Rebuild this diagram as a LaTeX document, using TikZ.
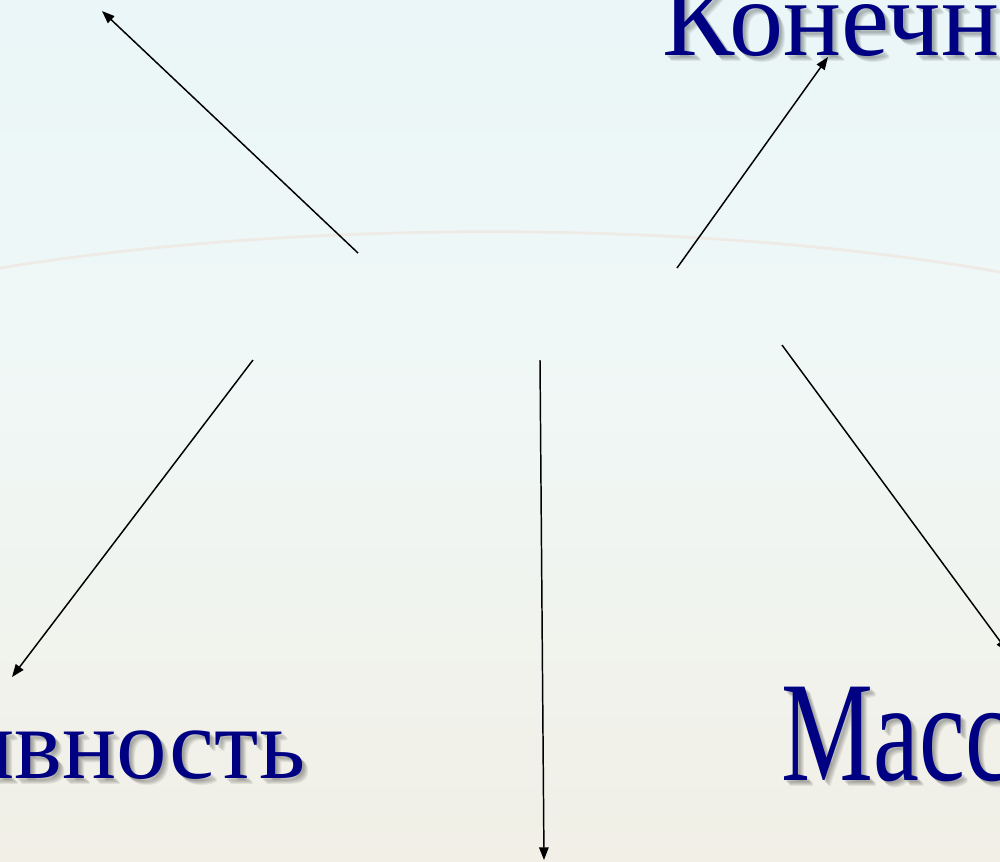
\documentclass[tikz,border=0pt]{standalone}
\usepackage{fontspec}
\setmainfont{Liberation Serif}
\usetikzlibrary{arrows.meta}
\definecolor{navy}{RGB}{0,0,130}
\definecolor{bgA}{RGB}{239,232,221}
\definecolor{bgB}{RGB}{241,239,230}
\definecolor{bgC}{RGB}{240,248,247}
\definecolor{bgD}{RGB}{232,245,247}
\definecolor{bgE}{RGB}{225,241,245}
\definecolor{arcline}{RGB}{238,235,231}
\pgfdeclareverticalshading{slidebg}{100bp}{color(0bp)=(bgA); color(25bp)=(bgB); color(55bp)=(bgC); color(80bp)=(bgD); color(100bp)=(bgE)}
\begin{document}
\begin{tikzpicture}[x=0.1mm,y=-0.1mm,
  arr/.style={draw=black, line width=0.42pt, -{Triangle[length=3.6pt,width=2.7pt]}},
  lblA/.style={inner sep=0, text=navy, font=\fontsize{30.8pt}{32pt}\selectfont},
  lblB/.style={inner sep=0, text=navy, font=\fontsize{28.8pt}{32pt}\selectfont},
  lblC/.style={inner sep=0, text=navy, font=\fontsize{29.4pt}{32pt}\selectfont},
  shd/.style={text=black, text opacity=0.07}]
\useasboundingbox (0,0) rectangle (1000,861);
\clip (0,0) rectangle (1000,861);
\shade[shading=slidebg] (0,0) rectangle (1000,861);
\draw[arcline, line width=0.8pt] (0,268) .. controls (300,219) and (700,219) .. (1000,272);

% shadows
\foreach \d in {2,3,4,5,6}{
  \node[lblA, shd, anchor=base west] (konS\d) at (662+\d,55+\d) {Конечн};
  \node[lblB, shd, anchor=base east] (rezS\d) at (306+\d,778+\d) {ивность};
  \node[lblC, shd, anchor=base west] (masS\d) at (781+\d,780+\d) {\scalebox{1}[1.38]{Масс}};
}
% labels
\node[lblA, anchor=base west] (kon) at (662,55) {Конечн};
\node[lblB, anchor=base east] (rez) at (306,778) {ивность};
\node[lblC, anchor=base west] (mas) at (781,780) {\scalebox{1}[1.38]{Масс}};

% arrow ends
\coordinate (s1) at (358,253); \coordinate (t1) at (102,11);
\coordinate (s2) at (677,268); \coordinate (t2) at (828,57);
\coordinate (s3) at (253,360); \coordinate (t3) at (12,677);
\coordinate (s4) at (540,360); \coordinate (t4) at (544,860);
\coordinate (s5) at (782,345); \coordinate (t5) at (1008,652);
\draw[arr] (s1) -- (t1);
\draw[arr] (s2) -- (t2);
\draw[arr] (s3) -- (t3);
\draw[arr] (s4) -- (t4);
\draw[arr] (s5) -- (t5);
\end{tikzpicture}
\end{document}
